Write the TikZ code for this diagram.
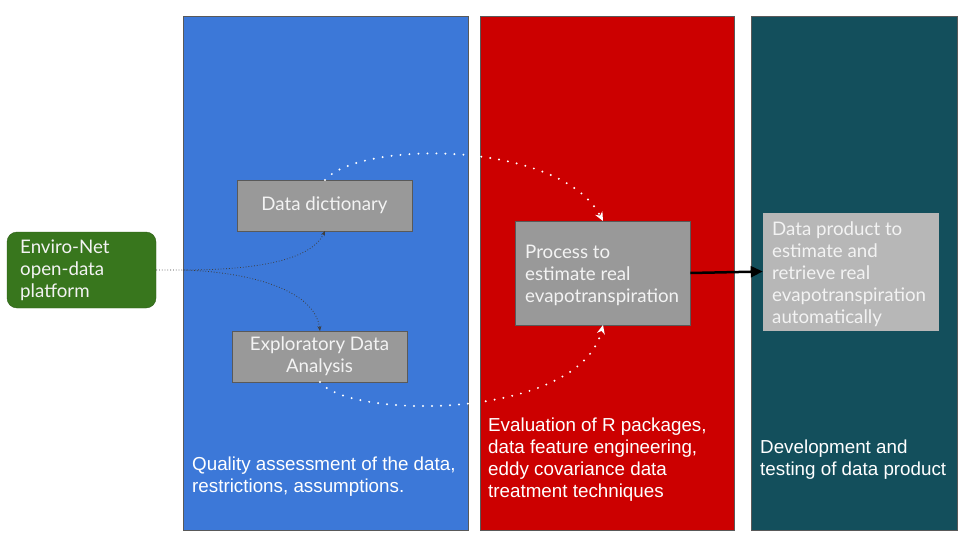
\documentclass[tikz,border=0pt]{standalone}
\usepackage{fontspec}
\setmainfont{Lato}
\newfontfamily\capfont{Liberation Sans}
\usetikzlibrary{arrows.meta}
\definecolor{pblue}{HTML}{3C78D8}
\definecolor{pred}{HTML}{CC0000}
\definecolor{pteal}{HTML}{134F5C}
\definecolor{pgreen}{HTML}{38761D}
\definecolor{bgray}{HTML}{999999}
\definecolor{lgray}{HTML}{B7B7B7}
\definecolor{edge}{HTML}{595959}
\definecolor{ttext}{HTML}{F3F3F3}
\tikzset{
  panel/.style={draw=edge, line width=0.6pt, anchor=north west, inner sep=0pt},
  graybox/.style={draw=edge, line width=0.6pt, fill=bgray, inner sep=0pt, text=ttext, font=\fontsize{18.7}{22}\selectfont},
  btext/.style={anchor=west, align=left, inner sep=0pt, text=ttext, font=\fontsize{18.7}{22}\selectfont},
  caption/.style={anchor=west, text=white, align=left, inner sep=0pt, font=\capfont\fontsize{18.8}{22}\selectfont},
  feed/.style={draw=edge!70!black, dotted, line width=0.8pt, -{Stealth[length=5pt,width=4pt]}},
  flow/.style={draw=white, line width=2.2pt, dash pattern=on 0pt off 9pt, line cap=round, -{Stealth[length=9pt,width=8pt,line width=1pt]}},
}
\begin{document}
\begin{tikzpicture}[x=1pt,y=-1pt]
\useasboundingbox (0,0) rectangle (960,540);
\fill[white] (0,0) rectangle (960,540);
% panels
\node[panel, fill=pblue, minimum width=285pt, minimum height=514pt] (blue) at (183,16) {};
\node[panel, fill=pred, minimum width=254pt, minimum height=514pt] (red) at (480,16) {};
\node[panel, fill=pteal, minimum width=206pt, minimum height=514pt] (teal) at (751,16) {};
% captions
\node[caption] (capb) at (192,477) {Quality assessment of the data,\\restrictions, assumptions.};
\node[caption] (capr) at (488,460) {Evaluation of R packages,\\data feature engineering,\\eddy covariance data\\treatment techniques};
\node[caption] (capt) at (760,460) {Development and\\testing of data product};
% green
\node[draw=pgreen!80!black, fill=pgreen, rounded corners=10pt, minimum width=149pt, minimum height=76pt, inner sep=0pt] (env) at (81.5,270) {};
\node[btext] (envt) at (20,270) {Enviro-Net\\open-data\\platform};
% gray boxes
\node[graybox, minimum width=175pt, minimum height=51pt] (dd) at (324.5,205.5) {Data dictionary};
\node[graybox, minimum width=175pt, minimum height=51pt, align=center] (eda) at (319.5,356.5) {Exploratory Data\\Analysis};
\node[graybox, minimum width=175pt, minimum height=104pt] (proc) at (602.5,273) {};
\node[btext] (proct) at (525,275) {Process to\\estimate real\\evapotranspiration};
\node[graybox, fill=lgray, draw=lgray, minimum width=175pt, minimum height=117pt] (prod) at (850.5,271.5) {};
\node[btext] (prodt) at (772,274) {Data product to\\estimate and\\retrieve real\\evapotranspiration\\automatically};
% connectors
\coordinate (ddb) at (325,231);
\coordinate (edat) at (320,331);
\coordinate (split) at (183,270);
\draw[feed] (env.east) -- (split) .. controls (250,270) and (310,262) .. (ddb);
\draw[feed] (split) .. controls (250,272) and (315,290) .. (edat);
\coordinate (ddt) at (325,180);
\coordinate (pt) at (603,221);
\coordinate (edab) at (320,382);
\coordinate (pb) at (603,325);
\draw[flow] (ddt) .. controls (360,140) and (560,140) .. (pt);
\draw[flow] (edab) .. controls (350,420) and (580,420) .. (pb);
\draw[line width=2.5pt, -{Triangle[length=12pt,width=11pt]}] (proc.east) -- (prod.west);
\end{tikzpicture}
\end{document}
